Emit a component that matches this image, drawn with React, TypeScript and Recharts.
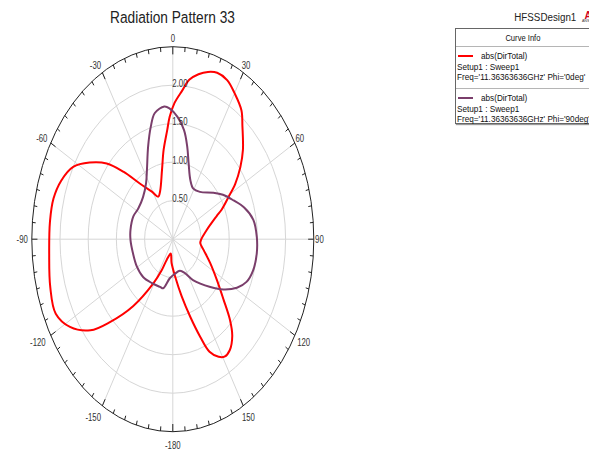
import React from 'react';
import { LineChart, Line, XAxis, YAxis, ReferenceLine, ReferenceArea, ReferenceDot, Legend } from 'recharts';

const FONT = "'Liberation Sans', Arial, Helvetica, sans-serif";

// ---- Data (angle in degrees, 0 = top, clockwise positive; r = abs(DirTotal)) ----
const redAngles = [-169, -158, -154, -149, -141, -134, -129, -122, -115, -106, -95, -84, -76, -69, -62, -56, -50, -45, -39, -31, -25, -20, -12, -8, -4, -2, 1, 5, 8, 12, 16, 20, 25, 30, 36, 40, 47, 52, 57, 61, 66, 69, 79, 91, 96, 104, 115, 124, 131, 136, 140, 145, 149, 152, 156, 159, 163, 168, 175, 184];
const redR = [0.19, 0.29, 0.45, 0.67, 1.12, 1.55, 1.88, 2.15, 2.29, 2.26, 2.2, 2.19, 2.18, 2.12, 2.0, 1.78, 1.53, 1.24, 0.93, 0.72, 0.61, 0.66, 0.92, 1.17, 1.42, 1.59, 1.77, 1.94, 2.09, 2.19, 2.26, 2.3, 2.28, 2.19, 2.07, 1.92, 1.7, 1.52, 1.32, 1.13, 0.95, 0.83, 0.61, 0.5, 0.49, 0.56, 0.73, 0.94, 1.19, 1.46, 1.64, 1.76, 1.78, 1.73, 1.6, 1.36, 1.05, 0.76, 0.49, 0.31];

const purpleAngles = [-174, -165, -160, -147, -133, -119, -104, -91, -81, -67, -57, -44, -33, -27, -20, -15, -11, -5, -2, 3, 8, 12, 16, 22, 29, 38, 50, 57, 65, 72, 80, 89, 97, 106, 113, 119, 126, 133, 146, 154, 163, 175];
const purpleR = [0.51, 0.66, 0.66, 0.68, 0.72, 0.73, 0.73, 0.75, 0.76, 0.76, 0.73, 0.76, 0.87, 1.01, 1.28, 1.51, 1.67, 1.73, 1.7, 1.59, 1.43, 1.23, 1.02, 0.83, 0.75, 0.78, 0.94, 1.06, 1.19, 1.33, 1.45, 1.49, 1.5, 1.48, 1.42, 1.3, 1.11, 0.91, 0.64, 0.49, 0.43, 0.45];

const seriesNames = ['abs(DirTotal)', 'abs(DirTotal)'];
const seriesSetups = ['Setup1 : Sweep1', 'Setup1 : Sweep1'];
const seriesFreqs = ["Freq='11.36363636GHz' Phi='0deg'", "Freq='11.36363636GHz' Phi='90deg'"];
const seriesColors = ['#ff0000', '#7a3e6b'];

const angleTicks = [0, 30, 60, 90, 120, 150, 180, -150, -120, -90, -60, -30];
const angleTickLabels = ['0', '30', '60', '90', '120', '150', '-180', '-150', '-120', '-90', '-60', '-30'];
const ringValues = [0.5, 1, 1.5, 2];
const ringLabels = ['0.50', '1.00', '1.50', '2.00'];
const outerRadius = 2.5;

const chartTitle = 'Radiation Pattern 33';
const designName = 'HFSSDesign1';
const legendTitle = 'Curve Info';

// ---- helpers ----
const DEG = Math.PI / 180;
const polarPoints = (angles: number[], radii: number[]) => {
  const pts = angles.map((a, i) => ({
    angle: a,
    r: radii[i],
    x: radii[i] * Math.sin(a * DEG),
    y: radii[i] * Math.cos(a * DEG),
  }));
  return [...pts, { ...pts[0] }];
};
const redData = polarPoints(redAngles, redR);
const purpleData = polarPoints(purpleAngles, purpleR);

const minorTickAngles: number[] = [];
for (let a = -175; a <= 180; a += 5) minorTickAngles.push(a);

// centripetal Catmull-Rom curve (closes smoothly when first point == last point)
function smoothCurve(context: any) {
  let pts: number[][] = [];
  return {
    areaStart() {},
    areaEnd() {},
    lineStart() {
      pts = [];
    },
    point(x: number, y: number) {
      pts.push([+x, +y]);
    },
    lineEnd() {
      const n0 = pts.length;
      if (n0 === 0) return;
      if (n0 === 1) {
        context.moveTo(pts[0][0], pts[0][1]);
        return;
      }
      const closed =
        n0 > 3 &&
        Math.abs(pts[0][0] - pts[n0 - 1][0]) < 1e-6 &&
        Math.abs(pts[0][1] - pts[n0 - 1][1]) < 1e-6;
      const P = closed ? pts.slice(0, -1) : pts;
      const n = P.length;
      const get = (i: number) => (closed ? P[((i % n) + n) % n] : P[Math.max(0, Math.min(n - 1, i))]);
      const eps = 1e-9;
      context.moveTo(P[0][0], P[0][1]);
      const segs = closed ? n : n - 1;
      for (let i = 0; i < segs; i++) {
        const p0 = get(i - 1);
        const p1 = get(i);
        const p2 = get(i + 1);
        const p3 = get(i + 2);
        const d01 = Math.hypot(p1[0] - p0[0], p1[1] - p0[1]);
        const d12 = Math.hypot(p2[0] - p1[0], p2[1] - p1[1]);
        const d23 = Math.hypot(p3[0] - p2[0], p3[1] - p2[1]);
        const l01a = Math.sqrt(d01);
        const l12a = Math.sqrt(d12);
        const l23a = Math.sqrt(d23);
        let c1x = p1[0];
        let c1y = p1[1];
        let c2x = p2[0];
        let c2y = p2[1];
        if (l01a > eps) {
          const a = 2 * d01 + 3 * l01a * l12a + d12;
          const nn = 3 * l01a * (l01a + l12a);
          c1x = (p1[0] * a - p0[0] * d12 + p2[0] * d01) / nn;
          c1y = (p1[1] * a - p0[1] * d12 + p2[1] * d01) / nn;
        }
        if (l23a > eps) {
          const b = 2 * d23 + 3 * l23a * l12a + d12;
          const m = 3 * l23a * (l23a + l12a);
          c2x = (p2[0] * b + p1[0] * d23 - p3[0] * d12) / m;
          c2y = (p2[1] * b + p1[1] * d23 - p3[1] * d12) / m;
        }
        context.bezierCurveTo(c1x, c1y, c2x, c2y, p2[0], p2[1]);
      }
      if (closed) context.closePath();
    },
  };
}

const NText = ({
  x,
  y,
  text,
  size = 10,
  anchor = 'middle',
  fill = '#333',
  sx = 0.78,
  baseline = 'central',
  weight = 'normal',
}: any) => (
  <text
    transform={`translate(${x} ${y}) scale(${sx} 1)`}
    x={0}
    y={0}
    textAnchor={anchor}
    dominantBaseline={baseline}
    fontSize={size}
    fontFamily={FONT}
    fill={fill}
    fontWeight={weight}
  >
    {text}
  </text>
);

const ellipseShape = (stroke: string, width: number) => (p: any) => (
  <ellipse
    cx={p.x + p.width / 2}
    cy={p.y + p.height / 2}
    rx={Math.abs(p.width) / 2}
    ry={Math.abs(p.height) / 2}
    fill="none"
    stroke={stroke}
    strokeWidth={width}
  />
);

const rowStyle = (top: number, left: number): React.CSSProperties => ({
  position: 'absolute',
  left,
  top: top - 5,
  height: 10,
  lineHeight: '10px',
  fontSize: 9.5,
  whiteSpace: 'nowrap',
});
const narrowSpan: React.CSSProperties = {
  display: 'inline-block',
  transform: 'scaleX(0.86)',
  transformOrigin: 'left center',
};

const renderLegend = (props: any) => {
  const payload = props.payload || [];
  return (
    <div
      style={{
        position: 'relative',
        width: 150,
        height: 96,
        boxSizing: 'border-box',
        border: '1px solid #666',
        background: '#fff',
        boxShadow: '1px 1px 1px #999',
        fontFamily: FONT,
        color: '#111',
      }}
    >
      <div style={{ position: 'absolute', left: 0, width: 134, top: 4, height: 10, lineHeight: '10px', fontSize: 9.5, textAlign: 'center' }}>
        <span style={{ display: 'inline-block', transform: 'scaleX(0.8)' }}>{legendTitle}</span>
      </div>
      <div style={{ position: 'absolute', left: 0, right: 0, top: 17, height: 1, background: '#b5b5b5' }} />
      {payload.map((entry: any, i: number) => {
        const base = 17 + i * 42;
        return (
          <React.Fragment key={i}>
            {i > 0 && <div style={{ position: 'absolute', left: 0, right: 0, top: base, height: 1, background: '#b5b5b5' }} />}
            <div style={{ position: 'absolute', left: 2, width: 15, top: base + 9, height: 2, background: entry.color }} />
            <div style={rowStyle(base + 10, 25)}>
              <span style={narrowSpan}>{entry.value}</span>
            </div>
            <div style={rowStyle(base + 20.5, 1)}>
              <span style={narrowSpan}>{seriesSetups[i]}</span>
            </div>
            <div style={rowStyle(base + 30.5, 1)}>
              <span style={narrowSpan}>{seriesFreqs[i]}</span>
            </div>
          </React.Fragment>
        );
      })}
    </div>
  );
};

const W = 589;
const H = 442;

export default function App() {
  const rLabel = (a: number) => 2.6 + (Math.cos(a * DEG) < -0.1 ? 0.08 : 0);
  const labelShift = (a: number, text: string) => (text.startsWith('-') && Math.abs(Math.sin(a * DEG)) > 0.1 ? -4 : 0);
  return (
    <div style={{ position: 'relative', width: W, height: H, overflow: 'hidden', background: '#fff' }}>
      <LineChart width={W} height={H} margin={{ top: 38.7, right: 283.2, bottom: 18.3, left: 23.8 }}>
        <XAxis type="number" dataKey="x" domain={[-outerRadius, outerRadius]} allowDataOverflow hide />
        <YAxis type="number" dataKey="y" domain={[-outerRadius, outerRadius]} allowDataOverflow hide />

        {ringValues.map((r) => (
          <ReferenceArea
            key={`ring-${r}`}
            x1={-r}
            x2={r}
            y1={-r}
            y2={r}
            ifOverflow="visible"
            shape={ellipseShape('#d6d6d6', 1)}
            zIndex={-10}
          />
        ))}
        {angleTicks.map((a) => (
          <ReferenceLine
            key={`spoke-${a}`}
            segment={[
              { x: 0, y: 0 },
              { x: outerRadius * Math.sin(a * DEG), y: outerRadius * Math.cos(a * DEG) },
            ]}
            stroke="#d6d6d6"
            strokeWidth={1}
            ifOverflow="visible"
            zIndex={-10}
          />
        ))}

        <Line
          data={redData}
          dataKey="y"
          name={seriesNames[0]}
          stroke={seriesColors[0]}
          strokeWidth={2}
          dot={false}
          activeDot={false}
          type={smoothCurve as any}
          isAnimationActive={false}
          legendType="line"
        />
        <Line
          data={purpleData}
          dataKey="y"
          name={seriesNames[1]}
          stroke={seriesColors[1]}
          strokeWidth={2}
          dot={false}
          activeDot={false}
          type={smoothCurve as any}
          isAnimationActive={false}
          legendType="line"
        />

        <ReferenceArea
          x1={-outerRadius}
          x2={outerRadius}
          y1={-outerRadius}
          y2={outerRadius}
          ifOverflow="visible"
          shape={ellipseShape('#222', 1)}
        />
        {minorTickAngles.map((a) => {
          const major = a % 30 === 0;
          const inner = major ? 2.4 : 2.44;
          return (
            <ReferenceLine
              key={`tick-${a}`}
              segment={[
                { x: outerRadius * Math.sin(a * DEG), y: outerRadius * Math.cos(a * DEG) },
                { x: inner * Math.sin(a * DEG), y: inner * Math.cos(a * DEG) },
              ]}
              stroke="#222"
              strokeWidth={1}
              ifOverflow="visible"
            />
          );
        })}

        {angleTicks.map((a, i) => {
          const rl = rLabel(a);
          const dx = labelShift(a, angleTickLabels[i]);
          return (
            <ReferenceDot
              key={`alab-${a}`}
              x={rl * Math.sin(a * DEG)}
              y={rl * Math.cos(a * DEG)}
              ifOverflow="visible"
              shape={(p: any) => <NText x={p.cx + dx} y={p.cy} text={angleTickLabels[i]} />}
            />
          );
        })}
        {ringValues.map((r, i) => (
          <ReferenceDot
            key={`rlab-${r}`}
            x={0}
            y={r}
            ifOverflow="visible"
            shape={(p: any) => <NText x={p.cx - 0.5} y={p.cy - 2} text={ringLabels[i]} anchor="start" />}
          />
        ))}

        <Legend
          layout="vertical"
          align="center"
          verticalAlign="middle"
          content={renderLegend}
          wrapperStyle={{ position: 'absolute', left: 447, top: 20, width: 150, height: 96 }}
        />
      </LineChart>

      <svg width={W} height={H} style={{ position: 'absolute', left: 0, top: 0, pointerEvents: 'none' }}>
        <NText x={164.5} y={14.7} text={chartTitle} size={16.7} sx={0.82} fill="#222" baseline="alphabetic" />
        <NText x={506.3} y={12.6} text={designName} size={11} sx={0.89} fill="#222" anchor="start" baseline="alphabetic" />
        <NText x={580} y={10.5} text="A" size={10} sx={1} fill="#d0021b" weight="bold" baseline="alphabetic" />
        <NText x={580} y={14.2} text="ANSYS" size={3.6} sx={1} fill="#333" baseline="alphabetic" />
      </svg>
    </div>
  );
}
